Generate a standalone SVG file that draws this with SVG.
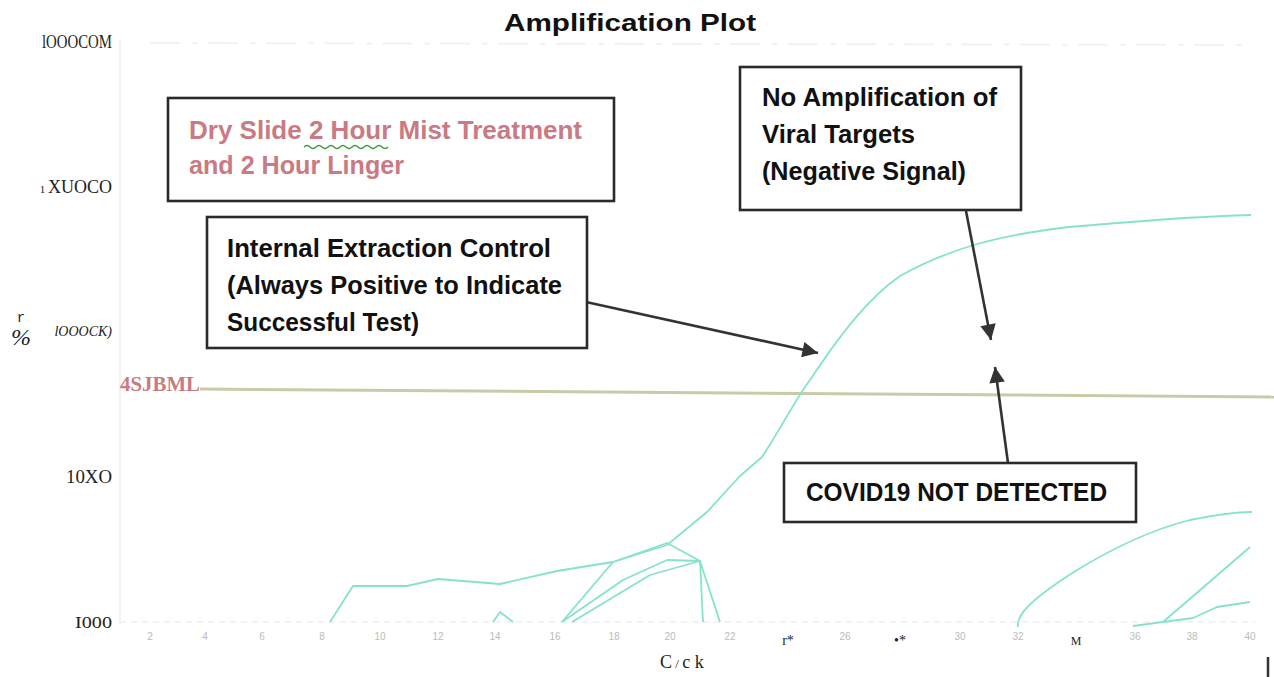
<svg xmlns="http://www.w3.org/2000/svg" width="1274" height="677" viewBox="0 0 1274 677">
<defs>
<style>
.box{fill:#fff;stroke:#2a2a2a;stroke-width:2.6}
.bt{font-family:"Liberation Sans",Arial,sans-serif;font-weight:bold;font-size:26px;fill:#111}
.pink{fill:#c97a82}
.ax{font-family:"Liberation Serif","Times New Roman",serif;font-size:18px;fill:#222}
.tick{font-family:"Liberation Sans",Arial,sans-serif;font-size:10px;fill:#bbb;text-anchor:middle}
.tickd{font-family:"Liberation Serif",serif;font-size:14px;fill:#222;text-anchor:middle}
.curve{fill:none;stroke:#86e2cc;stroke-width:1.8;stroke-linejoin:round}
.conn{stroke:#333;stroke-width:2.6;fill:none}
</style>
<marker id="ah" viewBox="0 0 10 10" refX="10" refY="5" markerWidth="7" markerHeight="6" markerUnits="strokeWidth" orient="auto">
<path d="M0,0 L10,5 L0,10 z" fill="#333"/>
</marker>
</defs>
<rect width="1274" height="677" fill="#fff"/>
<g id="plot">
<line x1="120" y1="40" x2="120" y2="625" stroke="#eee" stroke-width="1.5"/>
<line x1="150" y1="43" x2="1250" y2="45" stroke="#f2f2f2" stroke-width="2" stroke-dasharray="30 12 6 10"/>
<line x1="120" y1="622" x2="1255" y2="622" stroke="#eee" stroke-width="1.5" stroke-dasharray="6 5"/>
<line x1="200" y1="389" x2="1280" y2="397" stroke="#c8caa8" stroke-width="3"/>
<text x="630" y="31" text-anchor="middle" class="bt" textLength="252" lengthAdjust="spacingAndGlyphs" style="font-size:24px">Amplification Plot</text>
<text class="ax" x="42" y="48" textLength="70" lengthAdjust="spacingAndGlyphs">lOOOCOM</text>
<text class="ax" x="112" y="193" text-anchor="end"><tspan style="font-size:11px">1 </tspan>XUOCO</text>
<text class="ax" x="112" y="336" text-anchor="end" style="font-size:14px;font-style:italic">lOOOCK)</text>
<text x="120" y="391" style="font-family:'Liberation Serif',serif;font-weight:bold;font-size:22px;fill:#c97a82" textLength="80" lengthAdjust="spacingAndGlyphs">4SJBML</text>
<text class="ax" x="66" y="483" textLength="46" lengthAdjust="spacingAndGlyphs">10XO</text>
<text class="ax" x="75" y="628" textLength="37" lengthAdjust="spacingAndGlyphs" style="font-size:16px">I000</text>
<text x="21" y="322" text-anchor="middle" style="font-family:'Liberation Mono',monospace;font-size:14px;fill:#222">r</text>
<text x="21" y="345" text-anchor="middle" style="font-family:'Liberation Serif',serif;font-style:italic;font-size:24px;fill:#222">%</text>
<text class="tick" x="150" y="640">2</text>
<text class="tick" x="205" y="640">4</text>
<text class="tick" x="262" y="640">6</text>
<text class="tick" x="322" y="640">8</text>
<text class="tick" x="380" y="640">10</text>
<text class="tick" x="438" y="640">12</text>
<text class="tick" x="495" y="640">14</text>
<text class="tick" x="555" y="640">16</text>
<text class="tick" x="614" y="640">18</text>
<text class="tick" x="670" y="640">20</text>
<text class="tick" x="730" y="640">22</text>
<text class="tickd" x="788" y="645">r*</text>
<text class="tick" x="845" y="640">26</text>
<text class="tickd" x="900" y="645">•*</text>
<text class="tick" x="960" y="640">30</text>
<text class="tick" x="1018" y="640">32</text>
<text class="tickd" x="1076" y="645" style="font-size:12px">M</text>
<text class="tick" x="1135" y="640">36</text>
<text class="tick" x="1192" y="640">38</text>
<text class="tick" x="1250" y="640">40</text>
<text x="660" y="668" style="font-family:'Liberation Serif',serif;font-size:18px;fill:#222">C<tspan style="font-size:13px"> / </tspan>c k</text>
<line x1="1268" y1="657" x2="1268" y2="677" stroke="#333" stroke-width="2.5"/>
<path class="curve" d="M330,622 L353,586 L407,586 L438,579 L500,584 L557,571 L613,562 L667,545 L707,512 L740,476 L762,457 C780,430 795,400 810,380 C840,335 868,298 900,276 C950,248 1000,235 1069,227 C1150,220 1200,216 1251,215"/>
<path class="curve" d="M562,622 L613,562 L667,543 L700,561 L703,622"/>
<path class="curve" d="M562,622 L623,580 L667,560 L700,561 L720,622"/>
<path class="curve" d="M572,622 L650,575 L700,561"/>
<path class="curve" d="M493,622 L500,612 L513,622" stroke-width="1.4"/>
<path class="curve" d="M1018,627 C1016,615 1030,600 1077,570 C1110,550 1150,530 1190,520 C1220,514 1240,512 1252,512"/>
<path class="curve" d="M1133,626 L1163,622 L1250,547"/>
<path class="curve" d="M1163,622 L1193,618 L1217,607 L1250,602"/>
</g>
<g id="connectors">
<line class="conn" x1="586" y1="302" x2="818" y2="353" marker-end="url(#ah)"/>
<line class="conn" x1="966" y1="211" x2="991" y2="340" marker-end="url(#ah)"/>
<line class="conn" x1="1008" y1="463" x2="995" y2="367" marker-end="url(#ah)"/>
</g>
<g id="node-dry-slide">
<rect class="box" x="168" y="98" width="446" height="103"/>
<text class="bt pink" x="189" y="139" textLength="393" lengthAdjust="spacingAndGlyphs">Dry Slide 2 Hour Mist Treatment</text>
<text class="bt pink" x="189" y="174" textLength="215" lengthAdjust="spacingAndGlyphs">and 2 Hour Linger</text>
<path d="M304,147 q3,-3 6,0 t6,0 t6,0 t6,0 t6,0 t6,0 t6,0 t6,0 t6,0 t6,0 t6,0 t6,0 t6,0 t6,0" fill="none" stroke="#3c9a3c" stroke-width="1.5"/>
</g>
<g id="node-internal-control">
<rect class="box" x="207" y="217" width="380" height="131"/>
<text class="bt" x="227" y="257" textLength="324" lengthAdjust="spacingAndGlyphs">Internal Extraction Control</text>
<text class="bt" x="227" y="294" textLength="335" lengthAdjust="spacingAndGlyphs">(Always Positive to Indicate</text>
<text class="bt" x="227" y="331" textLength="192" lengthAdjust="spacingAndGlyphs">Successful Test)</text>
</g>
<g id="node-no-amplification">
<rect class="box" x="740" y="67" width="281" height="143"/>
<text class="bt" x="762" y="106" textLength="235" lengthAdjust="spacingAndGlyphs">No Amplification of</text>
<text class="bt" x="762" y="143" textLength="153" lengthAdjust="spacingAndGlyphs">Viral Targets</text>
<text class="bt" x="762" y="180" textLength="204" lengthAdjust="spacingAndGlyphs">(Negative Signal)</text>
</g>
<g id="node-covid">
<rect class="box" x="784" y="463" width="352" height="59"/>
<text class="bt" x="806" y="501" textLength="301" lengthAdjust="spacingAndGlyphs" style="font-size:25px">COVID19 NOT DETECTED</text>
</g>
</svg>
